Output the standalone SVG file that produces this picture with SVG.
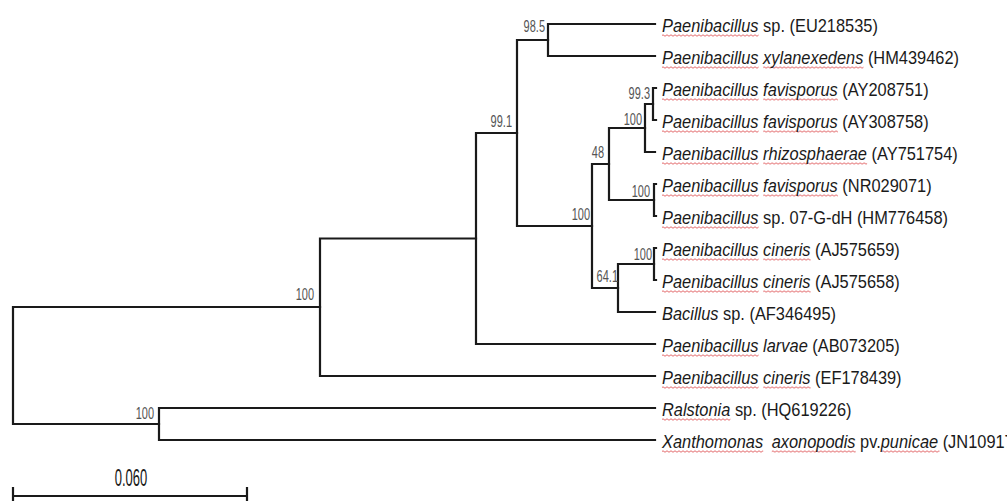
<svg xmlns="http://www.w3.org/2000/svg" width="1007" height="501" viewBox="0 0 1007 501">
  <style>
    .branch { fill: none; stroke: #1a1a1a; stroke-width: 2.2; stroke-linecap: square; }
    .taxon { font-family: "Liberation Sans", Arial, sans-serif; font-size: 16.4px; fill: #1a1a1a; }
    .it { font-style: italic; }
    .boot { font-family: "Liberation Sans", Arial, sans-serif; font-size: 11px; fill: #555; text-anchor: end; }
    .scale { font-family: "Liberation Sans", Arial, sans-serif; font-size: 13px; fill: #1a1a1a; text-anchor: middle; }
    .wavy { fill: url(#wave); }
  </style>
  <defs>
    <!-- red squiggle used under the Latin names -->
    <pattern id="wave" patternUnits="userSpaceOnUse" width="4" height="3">
      <path d="M0 1.5 Q1 0 2 1.5 T4 1.5" fill="none" stroke="#e0585a" stroke-width="0.9"/>
    </pattern>
  </defs>
  <rect width="1007" height="501" fill="#ffffff"/>

  <!-- tree branches (rectangular cladogram) -->
  <g id="connectors">
    <!-- root -->
    <path class="branch" d="M320 307 H13 V424 H159"/>
    <!-- outgroup: Ralstonia / Xanthomonas -->
    <path class="branch" d="M655 408 H159 V440 H655"/>
    <!-- node K -->
    <path class="branch" d="M476 238.5 H320 V376 H655"/>
    <!-- node J -->
    <path class="branch" d="M517 133 H476 V344 H655"/>
    <!-- node I -->
    <path class="branch" d="M548 40 H517 V226 H592"/>
    <!-- node A: EU218535 / HM439462 -->
    <path class="branch" d="M655 24 H548 V56 H655"/>
    <!-- node H -->
    <path class="branch" d="M609 164 H592 V288 H618"/>
    <!-- node E -->
    <path class="branch" d="M645 128 H609 V200 H654"/>
    <!-- node C -->
    <path class="branch" d="M653 104 H645 V152 H655"/>
    <!-- node B: AY208751 / AY308758 -->
    <path class="branch" d="M656 88 H653 V120 H656"/>
    <!-- node D: NR029071 / HM776458 -->
    <path class="branch" d="M656 184 H654 V216 H656"/>
    <!-- node G -->
    <path class="branch" d="M654 264 H618 V312 H655"/>
    <!-- node F: AJ575659 / AJ575658 -->
    <path class="branch" d="M656 248 H654 V280 H656"/>
  </g>

  <!-- bootstrap support values -->
  <g id="bootstrap">
    <text class="boot" transform="translate(545 32) scale(1 1.5)">98.5</text>
    <text class="boot" transform="translate(512 127) scale(1 1.5)">99.1</text>
    <text class="boot" transform="translate(650 99) scale(1 1.5)">99.3</text>
    <text class="boot" transform="translate(642 125) scale(1 1.5)">100</text>
    <text class="boot" transform="translate(604 158) scale(1 1.5)">48</text>
    <text class="boot" transform="translate(650 197) scale(1 1.5)">100</text>
    <text class="boot" transform="translate(590 220) scale(1 1.5)">100</text>
    <text class="boot" transform="translate(652 260) scale(1 1.5)">100</text>
    <text class="boot" transform="translate(618 282) scale(1 1.5)">64.1</text>
    <text class="boot" transform="translate(314 300) scale(1 1.5)">100</text>
    <text class="boot" transform="translate(154 419) scale(1 1.5)">100</text>
  </g>

  <!-- taxa -->
  <g id="leaf-EU218535">
    <rect class="wavy" transform="translate(662 34)" width="96.6" height="3"/>
    <text class="taxon" transform="translate(662 31.5) scale(1 1.13)"><tspan class="it">Paenibacillus</tspan> sp. (EU218535)</text>
  </g>
  <g id="leaf-HM439462">
    <rect class="wavy" transform="translate(662 66)" width="96.6" height="3"/>
    <rect class="wavy" transform="translate(763.2 66)" width="100.3" height="3"/>
    <text class="taxon" transform="translate(662 63.5) scale(1 1.13)"><tspan class="it">Paenibacillus xylanexedens</tspan> (HM439462)</text>
  </g>
  <g id="leaf-AY208751">
    <rect class="wavy" transform="translate(662 98)" width="96.6" height="3"/>
    <rect class="wavy" transform="translate(763.2 98)" width="74.7" height="3"/>
    <text class="taxon" transform="translate(662 95.5) scale(1 1.13)"><tspan class="it">Paenibacillus favisporus</tspan> (AY208751)</text>
  </g>
  <g id="leaf-AY308758">
    <rect class="wavy" transform="translate(662 130)" width="96.6" height="3"/>
    <rect class="wavy" transform="translate(763.2 130)" width="74.7" height="3"/>
    <text class="taxon" transform="translate(662 127.5) scale(1 1.13)"><tspan class="it">Paenibacillus favisporus</tspan> (AY308758)</text>
  </g>
  <g id="leaf-AY751754">
    <rect class="wavy" transform="translate(662 162)" width="96.6" height="3"/>
    <rect class="wavy" transform="translate(763.2 162)" width="103.9" height="3"/>
    <text class="taxon" transform="translate(662 159.5) scale(1 1.13)"><tspan class="it">Paenibacillus rhizosphaerae</tspan> (AY751754)</text>
  </g>
  <g id="leaf-NR029071">
    <rect class="wavy" transform="translate(662 194)" width="96.6" height="3"/>
    <rect class="wavy" transform="translate(763.2 194)" width="74.7" height="3"/>
    <text class="taxon" transform="translate(662 191.5) scale(1 1.13)"><tspan class="it">Paenibacillus favisporus</tspan> (NR029071)</text>
  </g>
  <g id="leaf-HM776458">
    <rect class="wavy" transform="translate(662 226)" width="96.6" height="3"/>
    <text class="taxon" transform="translate(662 223.5) scale(1 1.13)"><tspan class="it">Paenibacillus</tspan> sp. 07-G-dH (HM776458)</text>
  </g>
  <g id="leaf-AJ575659">
    <rect class="wavy" transform="translate(662 258)" width="96.6" height="3"/>
    <rect class="wavy" transform="translate(763.2 258)" width="47.4" height="3"/>
    <text class="taxon" transform="translate(662 255.5) scale(1 1.13)"><tspan class="it">Paenibacillus cineris</tspan> (AJ575659)</text>
  </g>
  <g id="leaf-AJ575658">
    <rect class="wavy" transform="translate(662 290)" width="96.6" height="3"/>
    <rect class="wavy" transform="translate(763.2 290)" width="47.4" height="3"/>
    <text class="taxon" transform="translate(662 287.5) scale(1 1.13)"><tspan class="it">Paenibacillus cineris</tspan> (AJ575658)</text>
  </g>
  <g id="leaf-AF346495">
    <text class="taxon" transform="translate(662 319.5) scale(1 1.13)"><tspan class="it">Bacillus</tspan> sp. (AF346495)</text>
  </g>
  <g id="leaf-AB073205">
    <rect class="wavy" transform="translate(662 354)" width="96.6" height="3"/>
    <text class="taxon" transform="translate(662 351.5) scale(1 1.13)"><tspan class="it">Paenibacillus larvae</tspan> (AB073205)</text>
  </g>
  <g id="leaf-EF178439">
    <rect class="wavy" transform="translate(662 386)" width="96.6" height="3"/>
    <rect class="wavy" transform="translate(763.2 386)" width="47.4" height="3"/>
    <text class="taxon" transform="translate(662 383.5) scale(1 1.13)"><tspan class="it">Paenibacillus cineris</tspan> (EF178439)</text>
  </g>
  <g id="leaf-HQ619226">
    <rect class="wavy" transform="translate(662 418)" width="68.4" height="3"/>
    <text class="taxon" transform="translate(662 415.5) scale(1 1.13)"><tspan class="it">Ralstonia</tspan> sp. (HQ619226)</text>
  </g>
  <g id="leaf-JN10917">
    <rect class="wavy" transform="translate(662 450)" width="101.2" height="3"/>
    <rect class="wavy" transform="translate(771.8 450)" width="83.9" height="3"/>
    <rect class="wavy" transform="translate(882.1 450)" width="57.4" height="3"/>
    <text class="taxon" transform="translate(662 447.5) scale(1 1.13)"><tspan class="it">Xanthomonas</tspan> <tspan class="it" dx="4">axonopodis</tspan> pv.<tspan class="it">punicae</tspan> (JN10917</text>
  </g>

  <!-- scale bar -->
  <g id="scale-bar">
    <text class="scale" transform="translate(131 486) scale(1 1.8)">0.060</text>
    <path class="branch" d="M13 488 V504 M13 496 H247 M247 488 V504"/>
  </g>
</svg>
